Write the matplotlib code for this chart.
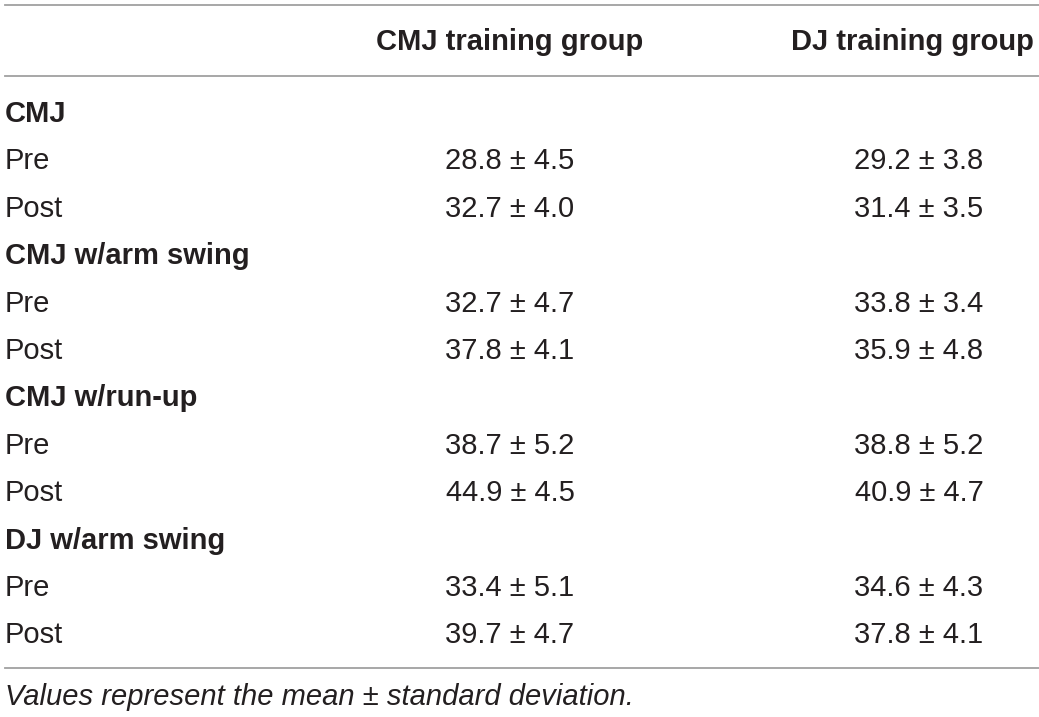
import matplotlib.pyplot as plt

plt.rcParams['font.family'] = ['Liberation Sans', 'DejaVu Sans']

col_headers = ["CMJ training group", "DJ training group"]
groups = ["CMJ", "CMJ w/arm swing", "CMJ w/run-up", "DJ w/arm swing"]
phases = ["Pre", "Post"]
cmj_mean = [[28.8, 32.7], [32.7, 37.8], [38.7, 44.9], [33.4, 39.7]]
cmj_sd = [[4.5, 4.0], [4.7, 4.1], [5.2, 4.5], [5.1, 4.7]]
dj_mean = [[29.2, 31.4], [33.8, 35.9], [38.8, 40.9], [34.6, 37.8]]
dj_sd = [[3.8, 3.5], [3.4, 4.8], [5.2, 4.7], [4.3, 4.1]]
note = "Values represent the mean \u00b1 standard deviation."

W, H = 1039, 717
fig = plt.figure(figsize=(W / 100, H / 100), dpi=100)
ax = fig.add_axes([0, 0, 1, 1])
ax.set_xlim(0, W)
ax.set_ylim(H, 0)
ax.axis("off")

txt = "#231f20"
line_c = "#a0a0a0"
fs = 21
x_label = 5
x_c1 = 510
x_c2 = 919

# rules
for y in [5, 76, 668]:
    ax.plot([5, W], [y, y], color=line_c, lw=1.3)

ax.text(x_c1, 42, col_headers[0], ha="center", va="center", fontsize=fs,
        fontweight="bold", color=txt)
ax.text(1034, 42, col_headers[1], ha="right", va="center", fontsize=fs,
        fontweight="bold", color=txt)

y = 114
step = 47.4
for g in range(len(groups)):
    ax.text(x_label, y, groups[g], ha="left", va="center", fontsize=fs,
            fontweight="bold", color=txt)
    y += step
    for p in range(len(phases)):
        ax.text(x_label, y, phases[p], ha="left", va="center", fontsize=fs, color=txt)
        ax.text(x_c1, y, f"{cmj_mean[g][p]:.1f} \u00b1 {cmj_sd[g][p]:.1f}",
                ha="center", va="center", fontsize=fs, color=txt)
        ax.text(x_c2, y, f"{dj_mean[g][p]:.1f} \u00b1 {dj_sd[g][p]:.1f}",
                ha="center", va="center", fontsize=fs, color=txt)
        y += step

ax.text(x_label, 697, note, ha="left", va="center", fontsize=fs,
        style="italic", color=txt)

fig.savefig("out.png", dpi=100)
